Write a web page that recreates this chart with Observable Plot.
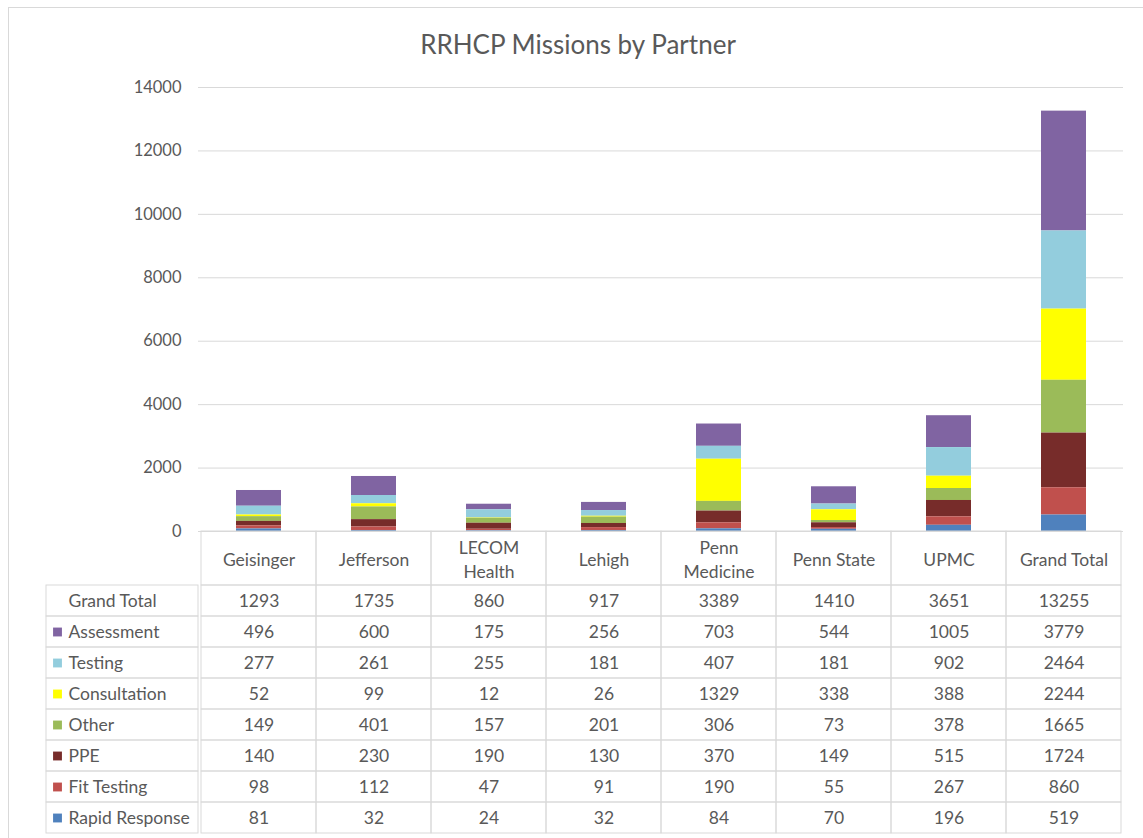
<!DOCTYPE html>
<html><head><meta charset="utf-8">
<script src="https://cdn.jsdelivr.net/npm/d3@7"></script>
<script src="https://cdn.jsdelivr.net/npm/@observablehq/plot@0.6"></script>
<style>
body{margin:0;background:#fff;font-family:Lato,sans-serif;}
#frame{position:absolute;left:8px;top:7px;width:1140px;height:840px;border:1px solid #d9d9d9;box-sizing:border-box;}
#title{position:absolute;left:0;width:1156px;top:28px;text-align:center;font-size:26px;color:#595959;font-family:Lato,sans-serif;}
#chart{position:absolute;left:0;top:0;}
#table{position:absolute;left:0;top:584px;}
</style></head><body>
<div id="frame"></div>
<div id="title">RRHCP Missions by Partner</div>
<div id="chart"></div>
<div id="table"></div>
<script>
// ---- data ----
const partners = ["Geisinger","Jefferson","LECOM Health","Lehigh","Penn Medicine","Penn State","UPMC","Grand Total"];
const headerLabels = ["Geisinger","Jefferson","LECOM\nHealth","Lehigh","Penn\nMedicine","Penn State","UPMC","Grand Total"];
const series = ["Assessment","Testing","Consultation","Other","PPE","Fit Testing","Rapid Response"];
const seriesColors = ["#8064a2","#93cddd","#ffff00","#9bbb59","#772c2a","#c0504d","#4f81bd"];
const assessment    = [496,600,175,256,703,544,1005,3779];
const testing       = [277,261,255,181,407,181,902,2464];
const consultation  = [52,99,12,26,1329,338,388,2244];
const other         = [149,401,157,201,306,73,378,1665];
const ppe           = [140,230,190,130,370,149,515,1724];
const fitTesting    = [98,112,47,91,190,55,267,860];
const rapidResponse = [81,32,24,32,84,70,196,519];
const grandTotal    = [1293,1735,860,917,3389,1410,3651,13255];
const yTicks = [0,2000,4000,6000,8000,10000,12000,14000];

// ---- derived tables ----
const seriesValues = [assessment,testing,consultation,other,ppe,fitTesting,rapidResponse];
const long = [];
series.forEach((s,i)=>partners.forEach((p,j)=>long.push({partner:p,series:s,value:seriesValues[i][j]})));
const rows = ["Grand Total", ...series];
const rowValues = [grandTotal, ...seriesValues];
const cellData = [];
rows.forEach((r,i)=>partners.forEach((p,j)=>cellData.push({row:r,partner:p,value:rowValues[i][j]})));

const W = 1143, ML = 198, MR = 20;
const frameW = W - ML - MR;
const gridColor = "#d9d9d9";
const textColor = "#595959";
const FS = 17.5;
const style = {fontFamily:"Lato, sans-serif", fontSize:"16px", color:textColor, background:"transparent", overflow:"visible"};

const chart = Plot.plot({
  width: W, height: 585,
  marginLeft: ML, marginRight: MR, marginTop: 87, marginBottom: 54,
  style,
  x: {domain: partners, padding: 0, axis: null},
  y: {domain: [0,14000], axis: null},
  color: {domain: series, range: seriesColors},
  marks: [
    Plot.gridY(yTicks, {stroke: gridColor, strokeOpacity: 1}),
    Plot.axisY(yTicks, {tickSize: 0, tickPadding: 17, tickFormat: d => String(d), label: null, fontSize: 16.5}),
    Plot.barY(long, {x: "partner", y: "value", fill: "series", order: [...series].reverse(), insetLeft: 35, insetRight: 35}),
    Plot.cell(partners, {x: d => d, fill: "none", stroke: gridColor, insetTop: 444, insetBottom: -54}),
    Plot.text(partners, {x: d => d, text: (d,i) => headerLabels[i], frameAnchor: "bottom", dy: 27, lineAnchor: "middle", lineHeight: 1.35, fontSize: FS})
  ]
});
document.getElementById("chart").append(chart);

const table = Plot.plot({
  width: W, height: 253,
  marginLeft: ML, marginRight: MR, marginTop: 1, marginBottom: 4,
  style,
  x: {domain: partners, padding: 0, axis: null},
  y: {domain: rows, padding: 0, axis: null},
  color: {domain: series, range: seriesColors},
  marks: [
    Plot.cell(cellData, {x: "partner", y: "row", fill: "none", stroke: gridColor}),
    Plot.cell(rows, {y: d => d, fill: "none", stroke: gridColor, insetLeft: -152, insetRight: frameW}),
    Plot.text(cellData, {x: "partner", y: "row", text: d => String(d.value), fontSize: FS}),
    Plot.text(rows, {y: d => d, text: d => d, frameAnchor: "left", dx: -130, textAnchor: "start", fontSize: FS}),
    Plot.dot(series, {y: d => d, fill: d => d, symbol: "square", r: 5, frameAnchor: "left", dx: -141})
  ]
});
document.getElementById("table").append(table);
</script>
</body></html>
